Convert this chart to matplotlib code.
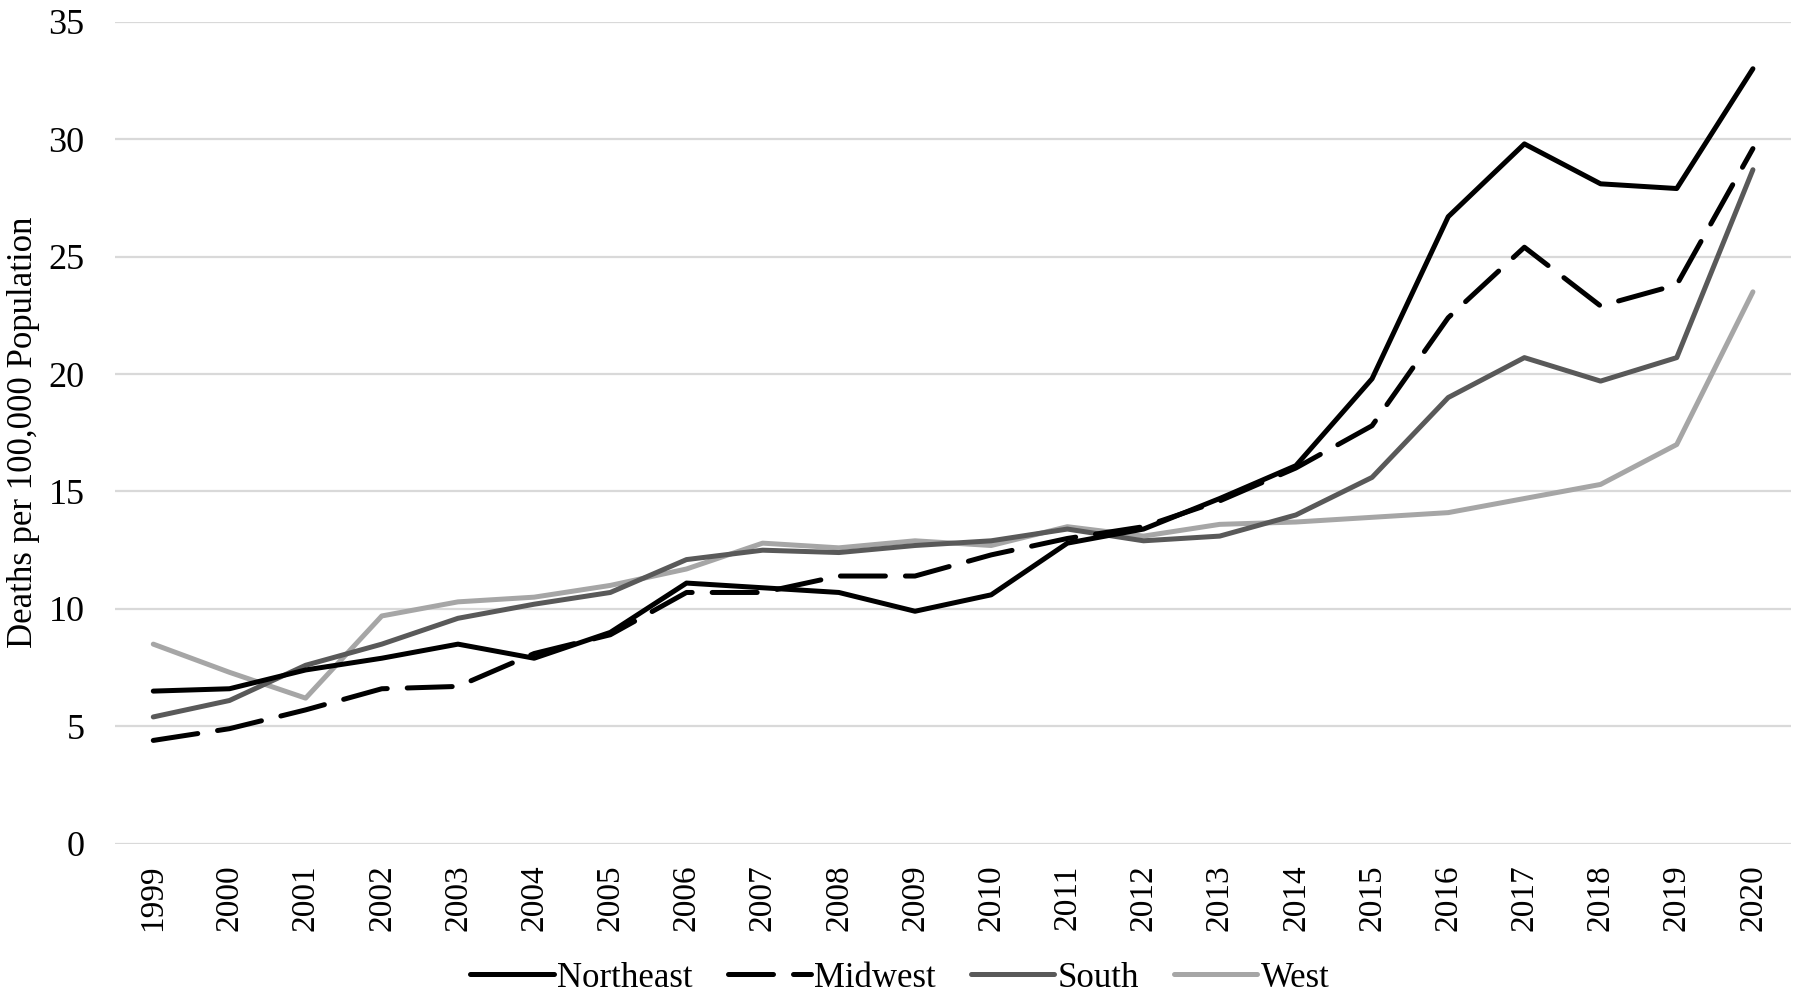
import matplotlib
matplotlib.use("Agg")
import matplotlib.pyplot as plt

years = [str(y) for y in range(1999, 2021)]
northeast = [6.5, 6.6, 7.4, 7.9, 8.5, 7.9, 9.0, 11.1, 10.9, 10.7, 9.9, 10.6, 12.8, 13.4, 14.7, 16.1, 19.8, 26.7, 29.8, 28.1, 27.9, 33.0]
midwest = [4.4, 4.9, 5.7, 6.6, 6.7, 8.1, 8.9, 10.7, 10.7, 11.4, 11.4, 12.3, 13.0, 13.5, 14.6, 16.0, 17.8, 22.4, 25.4, 22.9, 23.8, 29.6]
south = [5.4, 6.1, 7.6, 8.5, 9.6, 10.2, 10.7, 12.1, 12.5, 12.4, 12.7, 12.9, 13.4, 12.9, 13.1, 14.0, 15.6, 19.0, 20.7, 19.7, 20.7, 28.7]
west = [8.5, 7.3, 6.2, 9.7, 10.3, 10.5, 11.0, 11.7, 12.8, 12.6, 12.9, 12.7, 13.5, 13.1, 13.6, 13.7, 13.9, 14.1, 14.7, 15.3, 17.0, 23.5]
yticks = [0, 5, 10, 15, 20, 25, 30, 35]

plt.rcParams['font.family'] = ['Liberation Serif', 'DejaVu Serif']

fig = plt.figure(figsize=(18, 9.99), dpi=100)
ax = fig.add_axes([0.064, 0.1554, 0.931, 0.8228])

x = list(range(len(years)))
lw = 3.6
ax.plot(x, west, color='#a6a6a6', lw=lw, label='West', solid_capstyle='round', zorder=3)
ax.plot(x, south, color='#595959', lw=lw, label='South', solid_capstyle='round', zorder=4)
ax.plot(x, midwest, color='#000000', lw=lw, label='Midwest', dashes=(9, 4), dash_capstyle='round', zorder=5)
ax.plot(x, northeast, color='#000000', lw=lw, label='Northeast', solid_capstyle='round', zorder=6)

ax.set_xlim(-0.5, len(years) - 0.5)
ax.set_ylim(0, 35)
ax.set_yticks(yticks)
ax.set_yticklabels([str(t) for t in yticks], fontsize=26)
ax.set_xticks(x)
ax.set_xticklabels(years, rotation=90, fontsize=24)
ax.tick_params(axis='both', length=0)
ax.tick_params(axis='y', pad=22)
ax.tick_params(axis='x', pad=15)
ax.grid(axis='y', color='#d9d9d9', lw=1.6, zorder=0)
ax.set_axisbelow(True)
for s in ax.spines.values():
    s.set_visible(False)

ax.set_ylabel('Deaths per 100,000 Population', fontsize=25, labelpad=6)

handles, labels = ax.get_legend_handles_labels()
order = ['Northeast', 'Midwest', 'South', 'West']
hmap = dict(zip(labels, handles))
fig.legend([hmap[k] for k in order], order, loc='center', bbox_to_anchor=(0.5, 0.021),
           ncol=4, frameon=False, fontsize=25, handlelength=2.4, handletextpad=0.1,
           columnspacing=1.0)

fig.savefig('out.png', dpi=100)
